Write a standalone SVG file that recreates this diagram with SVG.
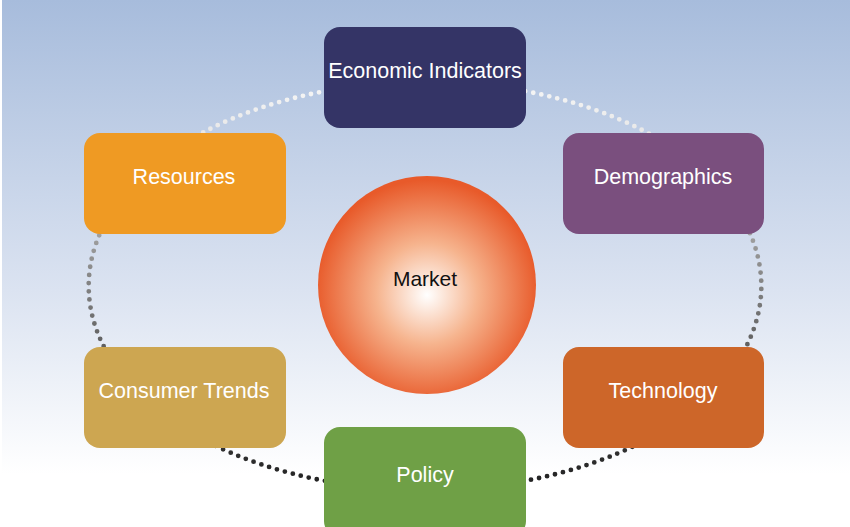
<svg xmlns="http://www.w3.org/2000/svg" width="850" height="527" viewBox="0 0 850 527">
<defs>
<linearGradient id="bg" x1="0" y1="0" x2="0" y2="527" gradientUnits="userSpaceOnUse">
<stop offset="0" stop-color="#a7bcdc"/>
<stop offset="0.55" stop-color="#dbe3f1"/>
<stop offset="0.9" stop-color="#ffffff"/>
</linearGradient>
<linearGradient id="dots" x1="0" y1="85" x2="0" y2="485" gradientUnits="userSpaceOnUse">
<stop offset="0" stop-color="#f6f6f6"/>
<stop offset="0.15" stop-color="#e4e4e4"/>
<stop offset="0.4" stop-color="#999999"/>
<stop offset="0.7" stop-color="#555555"/>
<stop offset="1" stop-color="#222222"/>
</linearGradient>
<radialGradient id="ball" cx="427" cy="292" r="112" fx="427" fy="295" gradientUnits="userSpaceOnUse">
<stop offset="0" stop-color="#ffffff"/>
<stop offset="0.45" stop-color="#f6b48e"/>
<stop offset="1" stop-color="#e85a2a"/>
</radialGradient>
</defs>
<style>
.conn{fill:none;stroke:url(#dots);stroke-width:4.8;stroke-linecap:round;stroke-dasharray:0 8.2}
.box{stroke:none}
.lbl{font-family:"Liberation Sans",Arial,Helvetica,sans-serif;font-size:21.5px;fill:#ffffff;text-anchor:middle}
.ctr{font-family:"Liberation Sans",Arial,Helvetica,sans-serif;font-size:21px;fill:#111111;text-anchor:middle}
</style>
<rect x="2" y="0" width="848" height="527" fill="url(#bg)"/>
<g id="connectors">
<path class="conn" d="M425,82 A336,204 0 0 0 180,146"/>
<path class="conn" d="M120,200 A336,204 0 0 0 120,372"/>
<path class="conn" d="M180,426 A336,204 0 0 0 425,490"/>
<path class="conn" d="M425,490 A336,204 0 0 0 670,426"/>
<path class="conn" d="M730,372 A336,204 0 0 0 730,200"/>
<path class="conn" d="M670,146 A336,204 0 0 0 425,82"/>
</g>
<g id="market">
<circle cx="427" cy="285" r="109" fill="url(#ball)"/>
<text class="ctr" x="425" y="286">Market</text>
</g>
<g id="economic-indicators">
<rect class="box" x="324" y="27" width="202" height="101" rx="16" fill="#343466"/>
<text class="lbl" x="425" y="78">Economic Indicators</text>
</g>
<g id="resources">
<rect class="box" x="84" y="133" width="202" height="101" rx="16" fill="#ef9a23"/>
<text class="lbl" x="184" y="184">Resources</text>
</g>
<g id="demographics">
<rect class="box" x="563" y="133" width="201" height="101" rx="16" fill="#7a4f7e"/>
<text class="lbl" x="663" y="184">Demographics</text>
</g>
<g id="consumer-trends">
<rect class="box" x="84" y="347" width="202" height="101" rx="16" fill="#cda651"/>
<text class="lbl" x="184" y="398">Consumer Trends</text>
</g>
<g id="technology">
<rect class="box" x="563" y="347" width="201" height="101" rx="16" fill="#cd6629"/>
<text class="lbl" x="663" y="398">Technology</text>
</g>
<g id="policy">
<rect class="box" x="324" y="427" width="202" height="110" rx="16" fill="#6fa046"/>
<text class="lbl" x="425" y="482">Policy</text>
</g>
</svg>
